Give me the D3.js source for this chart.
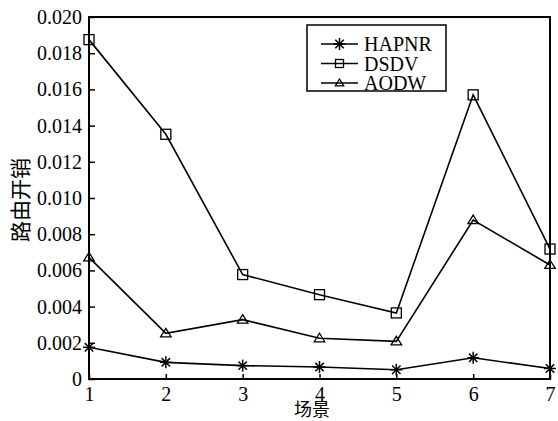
<!DOCTYPE html>
<html lang="zh">
<head>
<meta charset="UTF-8">
<title>路由开销</title>
<style>
    body { margin: 0; background: #fff; }
    .tick text { font-family: "Liberation Serif", "Times New Roman", serif; font-size: 20px; fill: #000; }
    .lbl { font-family: "Noto Sans CJK SC", sans-serif; font-size: 20px; fill: #000; }
    .leg text { font-family: "Liberation Serif", "Times New Roman", serif; font-size: 20px; fill: #000; }
</style>
<script src="https://cdn.jsdelivr.net/npm/d3@7"></script>
</head>
<body>
<div id="container"></div>
<script>
const scenes = [1, 2, 3, 4, 5, 6, 7];
const yTicks = [0, 0.002, 0.004, 0.006, 0.008, 0.010, 0.012, 0.014, 0.016, 0.018, 0.020];
const hapnr = [0.00175, 0.00092, 0.00074, 0.00066, 0.00051, 0.00117, 0.00058];
const dsdv = [0.01875, 0.01352, 0.00577, 0.00466, 0.00365, 0.01570, 0.00718];
const aodw = [0.00672, 0.00252, 0.00328, 0.00225, 0.00208, 0.00878, 0.00630];
const seriesNames = ["HAPNR", "DSDV", "AODW"];

const width = 558, height = 421;
const margin = {top: 17, right: 8, bottom: 42, left: 89};

const svg = d3.select("#container").append("svg")
    .attr("width", width).attr("height", height);

const x = d3.scaleLinear().domain([1, 7]).range([margin.left, width - margin.right]);
const y = d3.scaleLinear().domain([0, 0.02]).range([height - margin.bottom, margin.top]);

// box
svg.append("rect")
    .attr("x", x(1)).attr("y", y(0.02))
    .attr("width", x(7) - x(1)).attr("height", y(0) - y(0.02))
    .attr("fill", "none").attr("stroke", "#000").attr("stroke-width", 2);

const xAxis = svg.append("g")
    .attr("transform", `translate(0,${y(0)})`)
    .call(d3.axisBottom(x).tickValues(scenes).tickFormat(d3.format("d")).tickSizeInner(-5).tickSizeOuter(0).tickPadding(8));
xAxis.select(".domain").remove();
xAxis.selectAll(".tick line").attr("stroke-width", 1.5);

const yAxis = svg.append("g")
    .attr("transform", `translate(${x(1)},0)`)
    .call(d3.axisLeft(y).tickValues(yTicks)
        .tickFormat(d => d === 0 ? "0" : d3.format(".3f")(d))
        .tickSizeInner(-6).tickSizeOuter(0).tickPadding(7));
yAxis.select(".domain").remove();
yAxis.selectAll(".tick line").attr("stroke-width", 1.5);

svg.append("text").attr("class", "lbl")
    .attr("transform", `translate(28,200) rotate(-90)`)
    .attr("text-anchor", "middle")
    .style("font-size", "21px")
    .text("路由开销");
svg.append("text").attr("class", "lbl")
    .attr("x", 312).attr("y", 416)
    .attr("text-anchor", "middle")
    .style("font-size", "18px")
    .text("场景");

const line = d3.line().x((d, i) => x(scenes[i])).y(d => y(d));

function star(g, cx, cy, r) {
    const p = g.append("g").attr("transform", `translate(${cx},${cy})`)
        .attr("stroke", "#000").attr("stroke-width", 1.5);
    p.append("line").attr("x1", -r).attr("x2", r).attr("y1", 0).attr("y2", 0);
    p.append("line").attr("x1", 0).attr("x2", 0).attr("y1", -r).attr("y2", r);
    p.append("line").attr("x1", -r * 0.7).attr("x2", r * 0.7).attr("y1", -r * 0.7).attr("y2", r * 0.7);
    p.append("line").attr("x1", -r * 0.7).attr("x2", r * 0.7).attr("y1", r * 0.7).attr("y2", -r * 0.7);
}
function square(g, cx, cy, r) {
    g.append("rect").attr("x", cx - r).attr("y", cy - r)
        .attr("width", 2 * r).attr("height", 2 * r)
        .attr("fill", "none").attr("stroke", "#000").attr("stroke-width", 1.3);
}
function tri(g, cx, cy, r) {
    g.append("path")
        .attr("d", `M${cx},${cy - r}L${cx + r * 1.05},${cy + r * 0.7}L${cx - r * 1.05},${cy + r * 0.7}Z`)
        .attr("fill", "none").attr("stroke", "#000").attr("stroke-width", 1.3);
}
const markers = [star, square, tri];
const allData = [hapnr, dsdv, aodw];

allData.forEach((vals, k) => {
    const g = svg.append("g");
    g.append("path").datum(vals).attr("d", line)
        .attr("fill", "none").attr("stroke", "#000").attr("stroke-width", 1.6);
    vals.forEach((v, i) => markers[k](g, x(scenes[i]), y(v), k === 0 ? 6 : 5));
});

// legend
const leg = svg.append("g").attr("class", "leg");
leg.append("rect").attr("x", 307).attr("y", 25).attr("width", 139).attr("height", 66)
    .attr("fill", "#fff").attr("stroke", "#000").attr("stroke-width", 1.5);
seriesNames.forEach((name, k) => {
    const cy = 44 + k * 19.5;
    leg.append("line").attr("x1", 321).attr("x2", 358).attr("y1", cy).attr("y2", cy)
        .attr("stroke", "#000").attr("stroke-width", 1.6);
    markers[k](leg, 339.5, cy, k === 0 ? 6 : 4);
    leg.append("text").attr("x", 364).attr("y", cy + 7).text(name);
});
</script>
</body>
</html>
